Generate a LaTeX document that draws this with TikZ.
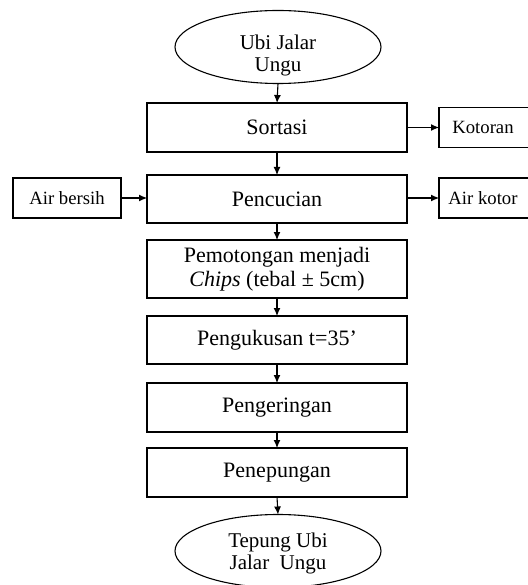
\documentclass[tikz,border=0pt]{standalone}
\usepackage{fontspec}
\setmainfont{Liberation Serif}
\usetikzlibrary{shapes.geometric,arrows.meta}
\begin{document}
\begin{tikzpicture}[x=1pt,y=-1pt,
  every node/.style={inner sep=0pt, outer sep=0pt},
  mainbox/.style={draw, line width=1.1pt, rectangle, minimum width=260pt, align=center, font=\fontsize{22}{24}\selectfont},
  sidebox/.style={draw, line width=1.1pt, rectangle, minimum height=40pt, align=center, font=\fontsize{18.7}{21}\selectfont},
  sidetext/.style={align=center, font=\fontsize{18.7}{21}\selectfont},
  term/.style={draw, line width=1.1pt, ellipse, minimum width=206pt, minimum height=73pt},
  termtext/.style={align=center, font=\fontsize{21}{22}\selectfont},
  flow/.style={line width=1.1pt, -{Latex[length=8pt,width=7pt]}}]
\useasboundingbox (0,0) rectangle (527,585);
\node[term] (start) at (278,47) {};
\node[termtext] (starttxt) at (278,55) {Ubi Jalar\\Ungu};
\node[mainbox, minimum height=49pt] (sort) at (277,127.5) {Sortasi};
\node[sidebox, minimum width=100pt] (kot) at (489,127.5) {};
\node[sidetext] (kottxt) at (483,127.5) {Kotoran};
\node[mainbox, minimum height=48pt] (cuci) at (277,199) {Pencucian};
\node[sidebox, minimum width=108pt] (bersih) at (67,198) {Air bersih};
\node[sidebox, minimum width=100pt] (akotor) at (489,198) {};
\node[sidetext] (akotortxt) at (483,198) {Air kotor};
\node[mainbox, minimum height=58pt] (potong) at (277,269) {Pemotongan menjadi\\\textit{Chips} (tebal ± 5cm)};
\node[mainbox, minimum height=48pt] (kukus) at (277,340) {Pengukusan t=35’};
\node[mainbox, minimum height=49pt] (kering) at (277,407.5) {Pengeringan};
\node[mainbox, minimum height=49pt] (tepung) at (277,472.5) {Penepungan};
\node[term] (end) at (278,551) {};
\node[termtext] (endtxt) at (278,553) {Tepung Ubi\\Jalar~ Ungu};
\draw[flow] (start.south) -- (sort.north);
\draw[flow] (sort.east) -- (kot.west);
\draw[flow] (sort.south) -- (cuci.north);
\draw[flow] (bersih.east) -- (cuci.west |- bersih.east);
\draw[flow] (cuci.east |- akotor.west) -- (akotor.west);
\draw[flow] (cuci.south) -- (potong.north);
\draw[flow] (potong.south) -- (kukus.north);
\draw[flow] (kukus.south) -- (kering.north);
\draw[flow] (kering.south) -- (tepung.north);
\draw[flow] (tepung.south) -- (end.north);
\end{tikzpicture}
\end{document}
